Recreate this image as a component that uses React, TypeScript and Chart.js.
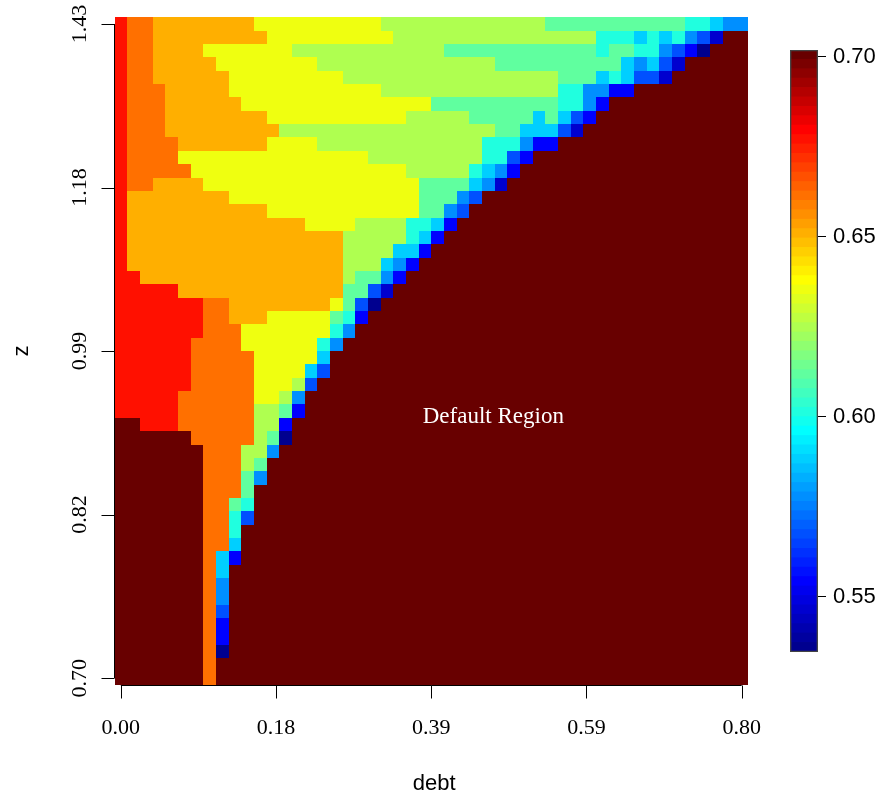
import React, { useEffect, useRef } from 'react';
import { Chart, registerables } from 'chart.js';

Chart.register(...registerables);

// ---------------- data ----------------
const debtCount = 50;
const zCount = 50;
const debtTickLabels = ['0.00', '0.18', '0.39', '0.59', '0.80'];
const zTickLabels = ['0.70', '0.82', '0.99', '1.18', '1.43'];
const tickFractions = [0, 0.25, 0.5, 0.75, 1];
const colorbarTicks = [0.55, 0.6, 0.65, 0.7];
const valueMin = 0.5347;
const valueMax = 0.7019;
const xTitle = 'debt';
const yTitle = 'z';
const regionText = 'Default Region';
const regionTextAt = [0.6, 0.4];

// value of each level code
const levelValues: Record<string, number> = {
  N: 0.5359, K: 0.5463, U: 0.5542, M: 0.5672, B: 0.5777, L: 0.5881, C: 0.6012,
  E: 0.6117, G: 0.6247, Y: 0.6352, O: 0.6508, Q: 0.6613, R: 0.677, D: 0.7005,
};

// run-length rows, highest z first, debt from 0 to 0.80
const valueRows = [
  'R1 Q2 O8 Y10 G13 E11 C2 L1 B2',
  'R1 Q2 O9 Y10 G16 C3 L1 C1 L1 C1 B1 M1 K1 D2',
  'R1 Q2 O4 Y7 G12 E12 C1 E2 C2 B1 M1 U1 N1 D3',
  'R1 Q2 O5 Y8 G14 E10 L1 B1 L1 M1 K1 D5',
  'R1 Q2 O6 Y9 G17 E3 L1 C1 L1 M2 K1 D6',
  'R1 Q3 O5 Y12 G14 C2 B2 U2 D9',
  'R1 Q3 O6 Y15 E10 C2 B1 U1 D11',
  'R1 Q3 O8 Y11 G5 E5 L1 E1 L1 M1 U1 D12',
  'R1 Q3 O9 G17 E2 L3 M1 K1 D13',
  'R1 Q4 O7 Y4 G13 C3 B1 U2 D15',
  'R1 Q4 Y15 G9 C2 M1 U1 D17',
  'R1 Q5 Y17 G5 C1 L1 B1 U1 D18',
  'R1 Q2 O4 Y17 E4 L1 B1 K1 D19',
  'R1 O8 Y15 E3 B1 M1 D21',
  'R1 O11 Y12 E2 B1 M1 D22',
  'R1 O14 Y4 G4 C2 L1 U1 D23',
  'R1 O17 G5 C1 L1 U1 D24',
  'R1 O17 G4 L2 U1 D25',
  'R1 O17 G3 L1 B1 U1 D26',
  'R2 O16 G1 E2 B1 U1 D27',
  'R5 O13 E2 M1 K1 D28',
  'R7 Q2 O8 Y1 E1 M1 N1 D29',
  'R7 Q2 O3 Y5 E1 C1 U1 D30',
  'R7 Q3 Y7 C1 B1 D31',
  'R6 Q4 Y6 C1 B1 D32',
  'R6 Q5 Y5 L1 D33',
  'R6 Q5 Y4 L1 M1 D33',
  'R6 Q5 Y3 G1 M1 D34',
  'R5 Q6 Y2 G1 B1 D35',
  'R5 Q6 G2 E1 U1 D35',
  'D2 R3 Q6 G2 U1 D36',
  'D6 Q5 G1 E1 N1 D36',
  'D7 Q3 G2 B1 D37',
  'D7 Q3 G1 E1 D38',
  'D7 Q3 E1 B1 D38',
  'D7 Q3 E1 D39',
  'D7 Q2 E1 C1 D39',
  'D7 Q2 C1 M1 D39',
  'D7 Q2 C1 D40',
  'D7 Q2 L1 D40',
  'D7 Q1 L1 U1 D40',
  'D7 Q1 L1 D41',
  'D7 Q1 B1 D41',
  'D7 Q1 B1 D41',
  'D7 Q1 M1 D41',
  'D7 Q1 U1 D41',
  'D7 Q1 U1 D41',
  'D7 Q1 N1 D41',
  'D7 Q1 D42',
  'D7 Q1 D42',
];

// ---------------- palette (tim.colors-like, 64 bands) ----------------
const paletteSize = 64;
const paletteStops = [
  [0, 0, 0, 143],
  [7, 0, 0, 255],
  [23, 0, 255, 255],
  [39, 255, 255, 0],
  [55, 255, 0, 0],
  [63, 104, 0, 0],
];
function paletteColor(i: number): string {
  for (let k = 0; k < paletteStops.length - 1; k++) {
    const a = paletteStops[k];
    const b = paletteStops[k + 1];
    if (i >= a[0] && i <= b[0]) {
      const t = (i - a[0]) / (b[0] - a[0]);
      const ch = (j: number) => Math.round(a[j] + (b[j] - a[j]) * t);
      return `rgb(${ch(1)},${ch(2)},${ch(3)})`;
    }
  }
  return 'rgb(104,0,0)';
}
function colorFor(v: number): string {
  let i = Math.floor(((v - valueMin) / (valueMax - valueMin)) * paletteSize);
  if (i < 0) i = 0;
  if (i > paletteSize - 1) i = paletteSize - 1;
  return paletteColor(i);
}
function decodeRow(s: string): number[] {
  const out: number[] = [];
  s.split(' ').forEach((tok) => {
    const code = tok[0];
    const n = parseInt(tok.slice(1), 10);
    for (let i = 0; i < n; i++) out.push(levelValues[code]);
  });
  while (out.length < debtCount) out.push(levelValues.D);
  return out.slice(0, debtCount);
}

const SERIF = '"Liberation Serif", "Times New Roman", serif';
const SANS = '"Liberation Sans", Arial, sans-serif';

export default function App() {
  const mainRef = useRef<HTMLCanvasElement | null>(null);
  const barRef = useRef<HTMLCanvasElement | null>(null);

  useEffect(() => {
    const cells: { x: number; y: number; v: number }[] = [];
    valueRows.forEach((row, r) => {
      decodeRow(row).forEach((v, c) => cells.push({ x: c, y: zCount - 1 - r, v }));
    });

    const heatPlugin = {
      id: 'heatCells',
      beforeDatasetsDraw(chart: any) {
        const { ctx } = chart;
        const xs = chart.scales.x;
        const ys = chart.scales.y;
        ctx.save();
        for (const p of chart.data.datasets[0].data as any[]) {
          const x0 = Math.round(xs.getPixelForValue(p.x - 0.5));
          const x1 = Math.round(xs.getPixelForValue(p.x + 0.5));
          const y0 = Math.round(ys.getPixelForValue(p.y + 0.5));
          const y1 = Math.round(ys.getPixelForValue(p.y - 0.5));
          ctx.fillStyle = colorFor(p.v);
          ctx.fillRect(x0, y0, x1 - x0, y1 - y0);
        }
        ctx.restore();
      },
    };

    const axesPlugin = {
      id: 'rAxes',
      afterDraw(chart: any) {
        const { ctx, chartArea } = chart;
        const xs = chart.scales.x;
        const ys = chart.scales.y;
        const tickLen = 13;
        ctx.save();
        ctx.strokeStyle = '#000';
        ctx.lineWidth = 1;
        // x axis
        const ay = Math.round(chartArea.bottom) + 0.5;
        const xp = tickFractions.map((f) => xs.getPixelForValue(f * (debtCount - 1)));
        ctx.beginPath();
        ctx.moveTo(xp[0], ay);
        ctx.lineTo(xp[xp.length - 1], ay);
        xp.forEach((x) => {
          const px = Math.round(x) + 0.5;
          ctx.moveTo(px, ay);
          ctx.lineTo(px, ay + tickLen);
        });
        ctx.stroke();
        ctx.fillStyle = '#000';
        ctx.font = `22px ${SERIF}`;
        ctx.textAlign = 'center';
        ctx.textBaseline = 'middle';
        xp.forEach((x, i) => ctx.fillText(debtTickLabels[i], x, ay + 43));
        // y axis
        const ax = Math.floor(chartArea.left) + 0.5;
        const yp = tickFractions.map((f) => ys.getPixelForValue(f * (zCount - 1)));
        ctx.beginPath();
        ctx.moveTo(ax, yp[0]);
        ctx.lineTo(ax, yp[yp.length - 1]);
        yp.forEach((y) => {
          const py = Math.round(y) + 0.5;
          ctx.moveTo(ax, py);
          ctx.lineTo(ax - tickLen, py);
        });
        ctx.stroke();
        yp.forEach((y, i) => {
          ctx.save();
          ctx.translate(ax - 34, y);
          ctx.rotate(-Math.PI / 2);
          ctx.fillText(zTickLabels[i], 0, 0);
          ctx.restore();
        });
        // titles
        ctx.font = `22px ${SANS}`;
        ctx.fillText(xTitle, (chartArea.left + chartArea.right) / 2 + 3, 784);
        ctx.save();
        ctx.translate(22, (chartArea.top + chartArea.bottom) / 2);
        ctx.rotate(-Math.PI / 2);
        ctx.fillText(yTitle, 0, 0);
        ctx.restore();
        // region label
        ctx.fillStyle = '#fff';
        ctx.font = `23px ${SERIF}`;
        ctx.fillText(
          regionText,
          xs.getPixelForValue(regionTextAt[0] * (debtCount - 1)),
          ys.getPixelForValue(regionTextAt[1] * (zCount - 1))
        );
        ctx.restore();
      },
    };

    const main = new Chart(mainRef.current as HTMLCanvasElement, {
      type: 'scatter',
      data: { datasets: [{ data: cells as any, pointRadius: 0, pointHoverRadius: 0 }] },
      options: {
        animation: false,
        responsive: false,
        events: [],
        layout: { padding: { left: 114.5, right: 148, top: 17.3, bottom: 118.2 } },
        scales: {
          x: { type: 'linear', min: -0.5, max: debtCount - 0.5, display: false },
          y: { type: 'linear', min: -0.5, max: zCount - 0.5, display: false },
        },
        plugins: { legend: { display: false }, tooltip: { enabled: false } },
      },
      plugins: [heatPlugin, axesPlugin],
    } as any);

    const step = (valueMax - valueMin) / paletteSize;
    const bandDatasets = Array.from({ length: paletteSize }, (_, i) => ({
      data: [[valueMin + i * step, valueMin + (i + 1) * step + (i < paletteSize - 1 ? step * 0.02 : 0)]],
      backgroundColor: paletteColor(i),
      borderWidth: 0,
      order: 1,
    }));

    const bar = new Chart(barRef.current as HTMLCanvasElement, {
      type: 'bar',
      data: {
        labels: [''],
        datasets: [
          {
            data: [[valueMin, valueMax]],
            backgroundColor: 'rgba(0,0,0,0)',
            borderColor: '#444',
            borderWidth: 1,
            borderSkipped: false,
            order: 0,
          },
          ...bandDatasets,
        ] as any,
      },
      options: {
        animation: false,
        responsive: false,
        events: [],
        datasets: { bar: { grouped: false, barPercentage: 1, categoryPercentage: 1 } },
        layout: { padding: { left: 790, right: 8, top: 50, bottom: 151 } },
        scales: {
          x: { display: false },
          y: {
            position: 'right',
            min: valueMin,
            max: valueMax,
            afterBuildTicks: (s: any) => {
              s.ticks = colorbarTicks.map((v) => ({ value: v }));
            },
            afterFit: (s: any) => {
              s.width = 70;
            },
            ticks: {
              autoSkip: false,
              padding: 7,
              color: '#000',
              font: { family: SANS, size: 22 },
              callback: (v: any) => Number(v).toFixed(2),
            },
            grid: { drawOnChartArea: false, drawTicks: true, tickLength: 8, color: '#000' },
            border: { display: false },
          },
        },
        plugins: { legend: { display: false }, tooltip: { enabled: false } },
      },
    } as any);

    return () => {
      main.destroy();
      bar.destroy();
    };
  }, []);

  const canvasStyle: React.CSSProperties = {
    position: 'absolute',
    left: 0,
    top: 0,
    width: 896,
    height: 803,
    display: 'block',
  };

  return (
    <div style={{ position: 'absolute', left: 0, top: 0, width: 896, height: 803, background: '#fff' }}>
      <canvas ref={mainRef} width={896} height={803} style={canvasStyle} />
      <canvas ref={barRef} width={896} height={803} style={{ ...canvasStyle, pointerEvents: 'none' }} />
    </div>
  );
}
